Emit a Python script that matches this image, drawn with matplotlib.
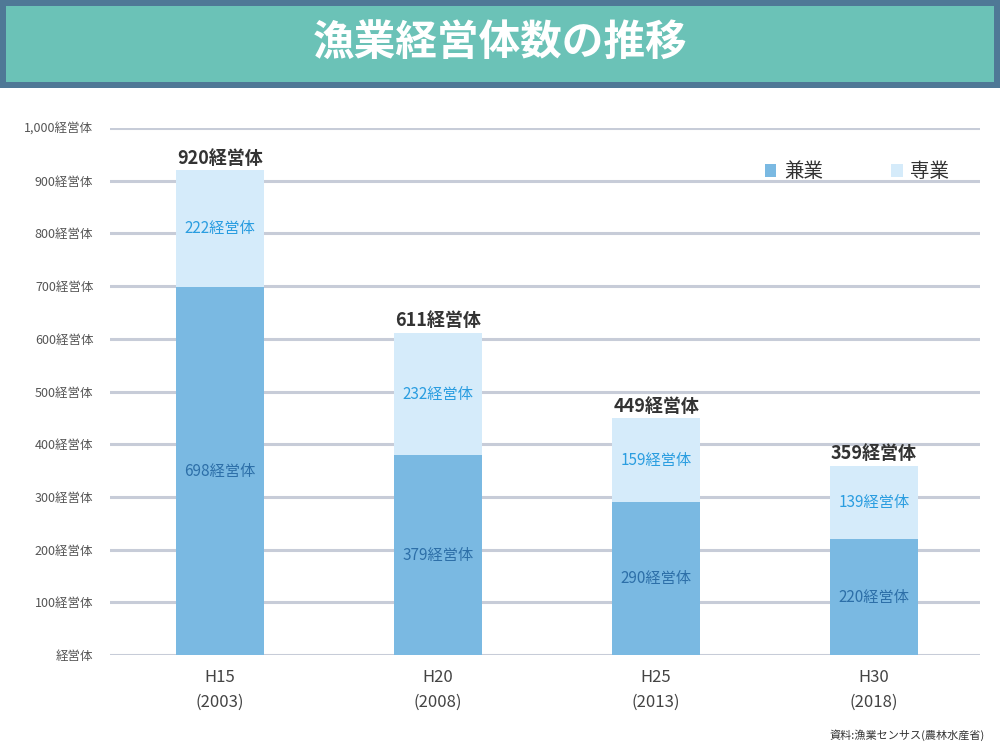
import matplotlib.pyplot as plt
from matplotlib.patches import Rectangle
import numpy as np

plt.rcParams['font.family'] = 'Noto Sans CJK JP'

# データ
categories = ['H15\n(2003)', 'H20\n(2008)', 'H25\n(2013)', 'H30\n(2018)']
kengyo = [698, 379, 290, 220]
sengyo = [222, 232, 159, 139]
totals = [920, 611, 449, 359]
yticks = [0, 100, 200, 300, 400, 500, 600, 700, 800, 900, 1000]

C_KEN = '#7ab9e2'
C_SEN = '#d5ebfa'

fig = plt.figure(figsize=(10, 7.5), dpi=100)

# タイトル帯
fig.patches.append(Rectangle((0, 1 - 88 / 750), 1, 88 / 750, transform=fig.transFigure,
                             facecolor='#4f7896', edgecolor='none'))
fig.patches.append(Rectangle((0.006, 1 - 82 / 750), 0.988, 76 / 750, transform=fig.transFigure,
                             facecolor='#6bc2b7', edgecolor='none'))
fig.text(0.5, 1 - 44 / 750, '漁業経営体数の推移', ha='center', va='center',
         color='white', fontsize=30, fontweight='bold')

ax = fig.add_axes([0.11, 0.1267, 0.87, 0.7026])
x = np.arange(len(categories))
w = 0.40
ax.bar(x, kengyo, w, color=C_KEN, zorder=3, label='兼業')
ax.bar(x, sengyo, w, bottom=kengyo, color=C_SEN, zorder=3, label='専業')

for i in x:
    ax.text(i, kengyo[i] / 2, f'{kengyo[i]}経営体', ha='center', va='center',
            color='#2d6fa8', fontsize=11, zorder=4)
    ax.text(i, kengyo[i] + sengyo[i] / 2, f'{sengyo[i]}経営体', ha='center', va='center',
            color='#2a9de0', fontsize=11, zorder=4)
    ax.text(i, totals[i] + 5, f'{totals[i]}経営体', ha='center', va='bottom',
            color='#333333', fontsize=13, fontweight='bold', zorder=4)

ax.set_xlim(-0.505, 3.486)
ax.set_ylim(0, 1000)
ax.set_yticks(yticks)
ax.set_yticklabels([('{:,}'.format(v) if v else '') + '経営体' for v in yticks],
                   color='#555555', fontsize=9)
ax.set_xticks(x)
ax.set_xticklabels(categories, color='#444444', fontsize=12, linespacing=1.6)
ax.tick_params(length=0, pad=10)
ax.tick_params(axis='y', pad=12)
ax.grid(axis='y', color='#c7ccd8', linewidth=2.2, zorder=0)
for s in ax.spines.values():
    s.set_visible(False)

leg = ax.legend(loc='upper right', bbox_to_anchor=(0.985, 0.97), ncol=2, frameon=False,
                fontsize=14, handlelength=0.6, handleheight=0.6, columnspacing=3.5,
                handletextpad=0.4)
for t in leg.get_texts():
    t.set_color('#333333')

fig.text(0.985, 0.012, '資料:漁業センサス(農林水産省)', ha='right', va='bottom',
         fontsize=8, color='#333333')

fig.savefig('out.png')
